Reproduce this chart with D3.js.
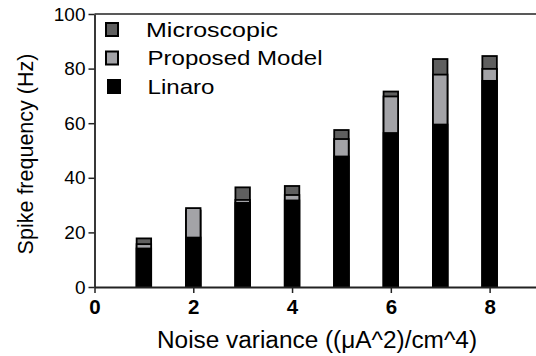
<!DOCTYPE html>
<html>
<head>
<meta charset="utf-8">
<script src="https://cdn.jsdelivr.net/npm/d3@7"></script>
<style>
  body { margin: 0; background: #fff; }
  text { font-family: "Liberation Sans", Arial, sans-serif; fill: #000; }
</style>
</head>
<body>
<script>
// data
var noise = [1, 2, 3, 4, 5, 6, 7, 8];
var microscopic = [17.8, 28.0, 36.5, 37.0, 57.5, 71.6, 83.5, 84.6];
var proposed = [15.7, 28.9, 31.9, 33.7, 54.2, 69.8, 77.8, 79.9];
var linaro = [14.1, 18.1, 30.8, 31.7, 47.8, 56.4, 59.5, 75.5];
var xTicks = [0, 2, 4, 6, 8];
var yTicks = [0, 20, 40, 60, 80, 100];
var legendNames = ["Microscopic", "Proposed Model", "Linaro"];
var colors = ["#5f5f5f", "#a3a3a7", "#000000"];

var width = 536, height = 356;

var svg = d3.select("body").append("svg")
    .attr("width", width)
    .attr("height", height);

var x = d3.scaleLinear().domain([0, 9]).range([94.5, 539]);
var y = d3.scaleLinear().domain([0, 100]).range([287, 14]);
var barW = 14.5;

// bars: microscopic behind, proposed middle, linaro front
var series = [microscopic, proposed, linaro];
series.forEach(function(vals, s){
    svg.selectAll(".bar" + s)
        .data(noise)
        .enter()
        .append("rect")
        .attr("class", "bar" + s)
        .attr("x", function(d){ return x(d) - barW / 2; })
        .attr("width", barW)
        .attr("y", function(d, i){ return y(vals[i]); })
        .attr("height", function(d, i){ return y(0) - y(vals[i]); })
        .attr("fill", colors[s])
        .attr("stroke", "#000")
        .attr("stroke-width", 1.8);
});

// frame: top line
svg.append("line")
    .attr("x1", x(0)).attr("x2", width)
    .attr("y1", y(100)).attr("y2", y(100))
    .attr("stroke", "#222").attr("stroke-width", 1.6);

// y axis
var yAxis = svg.append("g")
    .attr("transform", "translate(" + x(0) + ",0)")
    .call(d3.axisLeft(y).tickValues(yTicks).tickSize(6).tickPadding(3).tickSizeOuter(0));
yAxis.select(".domain").attr("stroke", "#222").attr("stroke-width", 1.8);
yAxis.selectAll(".tick line").attr("stroke", "#222").attr("stroke-width", 1.5);
yAxis.selectAll(".tick text")
    .attr("font-family", "Liberation Sans, Arial, sans-serif")
    .attr("font-size", 19).attr("fill", "#000");

// x axis
var xAxis = svg.append("g")
    .attr("transform", "translate(0," + y(0) + ")")
    .call(d3.axisBottom(x).tickValues(xTicks).tickSize(6).tickPadding(6).tickSizeOuter(0));
xAxis.select(".domain").attr("stroke", "#222").attr("stroke-width", 1.8);
xAxis.selectAll(".tick line").attr("stroke", "#222").attr("stroke-width", 1.5);
xAxis.selectAll(".tick text")
    .attr("font-family", "Liberation Sans, Arial, sans-serif")
    .attr("font-size", 20.5).attr("font-weight", "bold").attr("fill", "#000");

// axis titles (the reference text is drawn a bit wide)
svg.append("text")
    .attr("x", 157).attr("y", 347.5)
    .attr("font-size", 23)
    .attr("textLength", 320)
    .attr("lengthAdjust", "spacingAndGlyphs")
    .text("Noise variance ((\u03bcA^2)/cm^4)");

svg.append("text")
    .attr("transform", "translate(33,154) rotate(-90)")
    .attr("text-anchor", "middle")
    .attr("font-size", 21.5)
    .text("Spike frequency (Hz)");

// legend
var legendLen = [132, 175, 67];
var legend = svg.selectAll(".legend")
    .data(legendNames)
    .enter()
    .append("g")
    .attr("class", "legend")
    .attr("transform", function(d, i){ return "translate(106," + (23 + i * 28.5) + ")"; });

legend.append("rect")
    .attr("x", function(d, i){ return i == 2 ? 2 : 0; })
    .attr("width", 12).attr("height", 13)
    .attr("fill", function(d, i){ return colors[i]; })
    .attr("stroke", "#000").attr("stroke-width", 2);

legend.append("text")
    .attr("x", function(d, i){ return i == 0 ? 40 : 41.5; })
    .attr("y", 13.5)
    .attr("font-size", 21)
    .attr("textLength", function(d, i){ return legendLen[i]; })
    .attr("lengthAdjust", "spacingAndGlyphs")
    .text(function(d){ return d; });
</script>
</body>
</html>
